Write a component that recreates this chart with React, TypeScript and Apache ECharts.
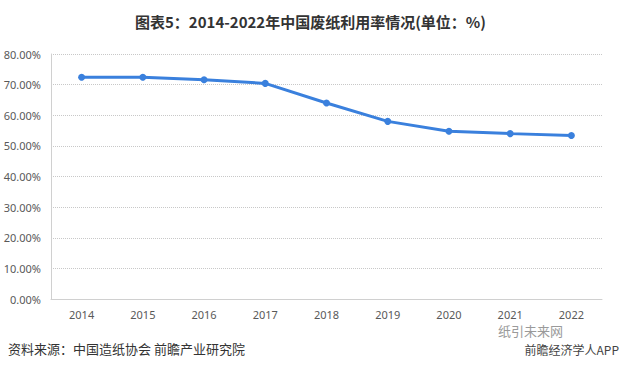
import React, { useEffect, useRef } from "react";
import * as echarts from "echarts";

const years = ["2014", "2015", "2016", "2017", "2018", "2019", "2020", "2021", "2022"];
const utilization = [72.4, 72.4, 71.6, 70.4, 64.0, 58.0, 54.8, 54.0, 53.4];
const titleText = "图表5：2014-2022年中国废纸利用率情况(单位：%)";
const sourceText = "资料来源：中国造纸协会 前瞻产业研究院";

export default function App() {
  const ref = useRef<HTMLDivElement>(null);
  useEffect(() => {
    const chart = echarts.init(ref.current!, null, { renderer: "svg" });
    chart.setOption({
      animation: false,
      backgroundColor: "#ffffff",
      title: {
        text: titleText,
        left: "center",
        top: 9,
        textStyle: { fontSize: 15, fontWeight: "bold", color: "#333333", fontFamily: "Noto Sans CJK SC" },
      },
      grid: { left: 51, right: 19, top: 54, bottom: 70, containLabel: false },
      xAxis: {
        type: "category",
        data: years,
        boundaryGap: true,
        axisLine: { show: true, lineStyle: { color: "#d0d0d0" } },
        axisTick: { show: false },
        axisLabel: { color: "#595959", fontSize: 11, margin: 10, fontFamily: "Noto Sans" },
      },
      yAxis: {
        type: "value",
        min: 0,
        max: 80,
        interval: 10,
        axisLine: { show: true, lineStyle: { color: "#d0d0d0" } },
        axisTick: { show: false },
        axisLabel: {
          color: "#595959",
          fontSize: 11,
          margin: 10,
          fontFamily: "Noto Sans",
          formatter: (v: number) => v.toFixed(2) + "%",
        },
        splitLine: { show: true, lineStyle: { color: "#c8c8c8", type: "dotted" } },
      },
      series: [
        {
          type: "line",
          data: utilization,
          symbol: "circle",
          symbolSize: 7,
          lineStyle: { color: "#3a80dd", width: 3 },
          itemStyle: { color: "#3a80dd" },
        },
      ],
      graphic: [
        {
          type: "text",
          left: 8,
          top: 342,
          style: { text: sourceText, fontSize: 13, fill: "#333333", fontFamily: "Noto Sans CJK SC" },
        },
        {
          type: "text",
          left: 498,
          top: 324,
          style: { text: "纸引未来网", fontSize: 13, fill: "#9a9a9a", fontFamily: "Noto Sans CJK SC" },
        },
        {
          type: "text",
          right: 2,
          top: 343,
          style: { text: "前瞻经济学人APP", fontSize: 12, fill: "#444444", fontFamily: "Noto Sans CJK SC" },
        },
      ],
    });
    return () => chart.dispose();
  }, []);
  return <div ref={ref} style={{ width: 621, height: 369, position: "absolute", left: 0, top: 0 }} />;
}
